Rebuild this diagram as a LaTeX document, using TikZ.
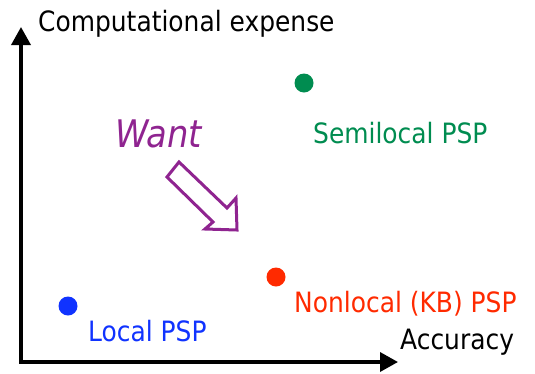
\documentclass[tikz,border=0pt]{standalone}
\usepackage{fontspec}
\setmainfont[FakeStretch=0.89]{DejaVu Sans}
\usetikzlibrary{arrows.meta, positioning}
\definecolor{semigreen}{HTML}{008C50}
\definecolor{nonlocred}{HTML}{FF2A00}
\definecolor{localblue}{HTML}{1033FF}
\definecolor{wantpurple}{HTML}{8F2490}
\tikzset{
  axis/.style={line width=3.5pt, draw=black,
               {Triangle[length=18pt,width=19pt]}-{Triangle[length=18pt,width=19pt]}},
  pspdot/.style={circle, inner sep=0pt, minimum size=19pt},
  psplabel/.style={anchor=base west, inner sep=0pt, font=\fontsize{28}{30}\selectfont},
  wantlabel/.style={anchor=base west, inner sep=0pt, text=wantpurple,
                    font=\fontsize{38}{40}\selectfont\itshape},
  wantarrow/.style={draw=wantpurple, line width=3pt, line join=miter, fill=white},
}
\begin{document}
\begin{tikzpicture}[x=1pt, y=-1pt]
  \useasboundingbox (0,0) rectangle (535,373);

  % --- axes ---
  \coordinate (origin) at (21,362);
  \coordinate (ytip)   at (21,27);
  \coordinate (xtip)   at (398,362);
  \draw[axis] (ytip) -- (origin) -- (xtip);
  \node[psplabel] (ylab) at (38,31)  {Computational expense};
  \node[psplabel] (xlab) at (400,349) {Accuracy};

  % --- pseudopotentials ---
  \node[pspdot, fill=semigreen] (semi)  at (304,83)  {};
  \node[pspdot, fill=nonlocred] (nonloc) at (276,277) {};
  \node[pspdot, fill=localblue] (loc)   at (68,306)  {};
  \node[psplabel, text=semigreen] (semilab)   at (313,143) {Semilocal PSP};
  \node[psplabel, text=nonlocred] (nonloclab) at (294,312) {Nonlocal (KB) PSP};
  \node[psplabel, text=localblue] (loclab)    at (88,341)  {Local PSP};

  % --- wanted direction ---
  \node[wantlabel] (want) at (115,147) {Want};
  \draw[wantarrow] (179,162) -- (227,208) -- (236,198) -- (237,230)
                   -- (205,229) -- (213,222) -- (167,177) -- cycle;
\end{tikzpicture}
\end{document}
